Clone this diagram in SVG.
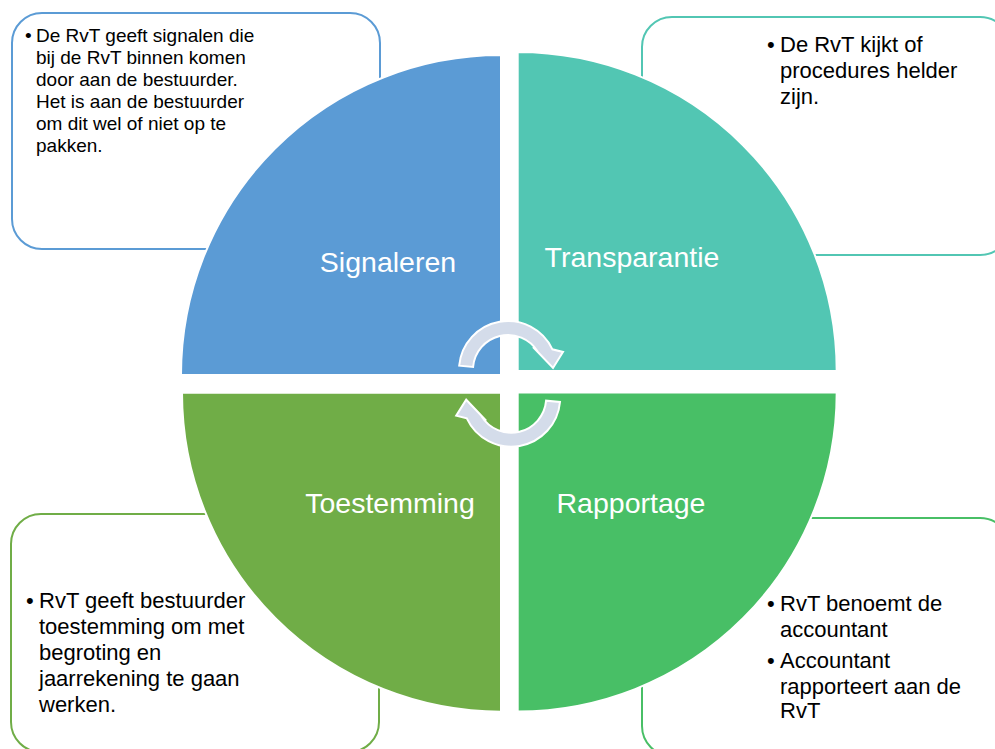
<svg xmlns="http://www.w3.org/2000/svg" width="995" height="749" viewBox="0 0 995 749">
<style>
.box{fill:#ffffff;stroke-width:2}
.q{stroke:#ffffff;stroke-width:2}
.lbl{font-family:"Liberation Sans",Arial,sans-serif;font-size:28.5px;fill:#ffffff;text-anchor:middle}
.t{font-family:"Liberation Sans",Arial,sans-serif;fill:#000000}
.s19{font-size:19px}
.s22{font-size:22px}
.arr{fill:#D4DCEA;stroke:#ffffff;stroke-width:2;stroke-linejoin:miter}
</style>
<defs>
<path id="carrow" d="M459.2,365.7 A49,49 0 0 1 552.4,349.3 L563,352 L553,368 L533,347 L537.7,351.5 A35,35 0 0 0 473.1,367 Z"/>
</defs>
<rect width="995" height="749" fill="#ffffff"/>
<g id="box-signaleren">
<rect class="box" x="12" y="13" width="368" height="236" rx="30" stroke="#5B9BD5"/>
<text class="t s19"><tspan x="25" y="42">•</tspan><tspan x="36" y="42">De RvT geeft signalen die</tspan><tspan x="36" y="64">bij de RvT binnen komen</tspan><tspan x="36" y="86">door aan de bestuurder.</tspan><tspan x="36" y="108">Het is aan de bestuurder</tspan><tspan x="36" y="130">om dit wel of niet op te</tspan><tspan x="36" y="152">pakken.</tspan></text>
</g>
<g id="box-transparantie">
<rect class="box" x="642" y="17" width="368" height="238" rx="30" stroke="#52C6B3"/>
<text class="t s22"><tspan x="767" y="52">•</tspan><tspan x="780" y="52">De RvT kijkt of</tspan><tspan x="780" y="78">procedures helder</tspan><tspan x="780" y="104">zijn.</tspan></text>
</g>
<g id="box-toestemming">
<rect class="box" x="11" y="514" width="368" height="238" rx="30" stroke="#70AD47"/>
<text class="t s22"><tspan x="26" y="608">•</tspan><tspan x="39" y="608">RvT geeft bestuurder</tspan><tspan x="39" y="634">toestemming om met</tspan><tspan x="39" y="660">begroting en</tspan><tspan x="39" y="686">jaarrekening te gaan</tspan><tspan x="39" y="712">werken.</tspan></text>
</g>
<g id="box-rapportage">
<rect class="box" x="642" y="518" width="368" height="238" rx="30" stroke="#48BF66"/>
<text class="t s22"><tspan x="767" y="611">•</tspan><tspan x="780" y="611">RvT benoemt de</tspan><tspan x="780" y="637">accountant</tspan><tspan x="767" y="668">•</tspan><tspan x="780" y="668">Accountant</tspan><tspan x="780" y="694">rapporteert aan de</tspan><tspan x="780" y="718">RvT</tspan></text>
</g>
<g id="q-signaleren">
<path class="q" d="M501,375 L181,375 A320,320 0 0 1 501,55 Z" fill="#5B9BD5"/>
<text class="lbl" x="388" y="272">Signaleren</text>
</g>
<g id="q-transparantie">
<path class="q" d="M517.7,371 L517.7,52 A319,319 0 0 1 836.7,371 Z" fill="#52C6B3"/>
<text class="lbl" x="632" y="267">Transparantie</text>
</g>
<g id="q-toestemming">
<path class="q" d="M501,392.7 L501,711.7 A319,319 0 0 1 182,392.7 Z" fill="#70AD47"/>
<text class="lbl" x="390" y="513">Toestemming</text>
</g>
<g id="q-rapportage">
<path class="q" d="M517.7,392.5 L836.7,392.5 A319,319 0 0 1 517.7,711.5 Z" fill="#48BF66"/>
<text class="lbl" x="631" y="513">Rapportage</text>
</g>
<g id="connectors">
<use href="#carrow" class="arr"/>
<use href="#carrow" class="arr" transform="rotate(180 509.6 383.85)"/>
</g>
</svg>
